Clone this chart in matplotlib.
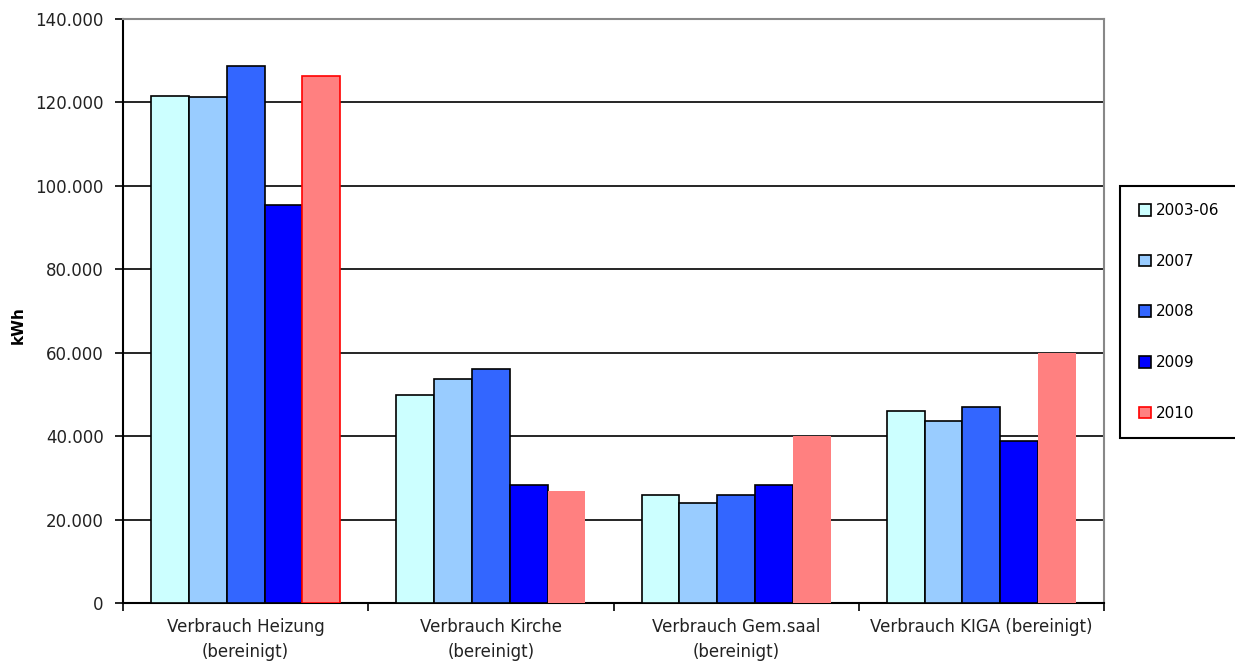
import matplotlib
matplotlib.use("Agg")
import matplotlib.pyplot as plt
import numpy as np
from matplotlib.ticker import FuncFormatter
from matplotlib.patches import Patch, Rectangle

plt.rcParams["font.family"] = ["DejaVu Sans"]

categories = ["Verbrauch Heizung\n(bereinigt)", "Verbrauch Kirche\n(bereinigt)",
              "Verbrauch Gem.saal\n(bereinigt)", "Verbrauch KIGA (bereinigt)"]
series = ["2003-06", "2007", "2008", "2009", "2010"]
v2003_06 = [121500, 49900, 25900, 46000]
v2007 = [121300, 53700, 24000, 43600]
v2008 = [128700, 56100, 25900, 47000]
v2009 = [95400, 28300, 28300, 38800]
v2010 = [126300, 26900, 40000, 59900]
values = [v2003_06, v2007, v2008, v2009, v2010]
colors = ["#CCFFFF", "#99CCFF", "#3366FF", "#0000FF", "#FF8080"]

W, H = 1235, 663
fig = plt.figure(figsize=(W/100, H/100), dpi=100)
ax = fig.add_axes([123/W, 1-603/H, (1104-123)/W, (603-19)/H])

n = len(series)
bw = 0.154
x = np.arange(len(categories))
for i, (s, vals, c) in enumerate(zip(series, values, colors)):
    pos = x + (i - (n-1)/2) * bw
    if s == "2010":
        ec = ["#FF0000", "none", "none", "none"]
        lw = [1.2, 0, 0, 0]
        for p, v, e, l in zip(pos, vals, ec, lw):
            ax.bar(p, v, bw, color=c, edgecolor=e, linewidth=l, zorder=3)
    else:
        ax.bar(pos, vals, bw, color=c, edgecolor="black", linewidth=1.2, zorder=3)

ax.set_xlim(-0.5, len(categories)-0.5)
ax.set_ylim(0, 140000)
ax.set_yticks(np.arange(0, 140001, 20000))
ax.yaxis.set_major_formatter(FuncFormatter(lambda v, p: f"{int(v):,}".replace(",", ".")))
ax.grid(axis="y", color="black", linewidth=1.2, zorder=0)
ax.set_axisbelow(True)

ax.set_xticks(x)
ax.set_xticklabels(categories, fontsize=12, color="#222222", linespacing=1.45)
ax.set_xticks(np.arange(-0.5, len(categories), 1), minor=True)
ax.tick_params(axis="x", which="major", length=0, pad=11)
ax.tick_params(axis="x", which="minor", length=6, width=1.2, direction="out")
ax.tick_params(axis="y", length=6, width=1.2, direction="out", labelsize=12,
               labelcolor="#222222", pad=8)

for side in ["left", "bottom"]:
    ax.spines[side].set_color("black")
    ax.spines[side].set_linewidth(1.5)
for side in ["top", "right"]:
    ax.spines[side].set_color("#888888")
    ax.spines[side].set_linewidth(1.5)

fig.text(18/W, 1-325/H, "kWh", rotation=90, fontsize=11, fontweight="bold",
         ha="center", va="center")

# legend frame extending to the right edge
fig.patches.append(Rectangle((1120/W, 1-438/H), 130/W, (438-186)/H,
                             transform=fig.transFigure, facecolor="white",
                             edgecolor="black", linewidth=1.5, zorder=1))
handles = []
for s, c in zip(series, colors):
    ec = "#FF0000" if s == "2010" else "black"
    handles.append(Patch(facecolor=c, edgecolor=ec, linewidth=1.2, label=s))
leg = fig.legend(handles=handles, loc="upper left",
                 bbox_to_anchor=(1122/W, 1-186/H), frameon=False,
                 fontsize=11, handlelength=0.8, handleheight=0.8, handletextpad=0.3,
                 labelspacing=2.33, borderpad=1.13, borderaxespad=0)

fig.savefig("out.png", dpi=100)
